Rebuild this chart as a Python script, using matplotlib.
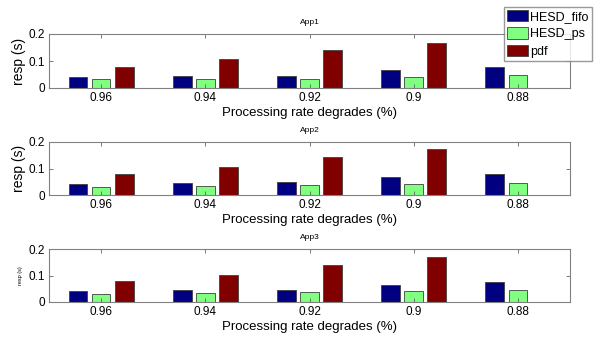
import numpy as np
import matplotlib.pyplot as plt

plt.rcParams["font.family"] = ["Liberation Sans", "DejaVu Sans"]

rates = ["0.96", "0.94", "0.92", "0.9", "0.88"]
series = ["HESD_fifo", "HESD_ps", "pdf"]
colors = ["#000080", "#80ff80", "#800000"]

app1_fifo = [0.042, 0.045, 0.045, 0.067, 0.077]
app1_ps = [0.032, 0.032, 0.034, 0.041, 0.047]
app1_pdf = [0.079, 0.106, 0.141, 0.167, 0.0]

app2_fifo = [0.042, 0.046, 0.049, 0.068, 0.078]
app2_ps = [0.030, 0.034, 0.037, 0.041, 0.045]
app2_pdf = [0.079, 0.106, 0.143, 0.173, 0.0]

app3_fifo = [0.041, 0.045, 0.046, 0.066, 0.075]
app3_ps = [0.030, 0.034, 0.039, 0.041, 0.046]
app3_pdf = [0.079, 0.101, 0.140, 0.169, 0.0]

apps = [
    ("App1", [app1_fifo, app1_ps, app1_pdf]),
    ("App2", [app2_fifo, app2_ps, app2_pdf]),
    ("App3", [app3_fifo, app3_ps, app3_pdf]),
]

W, H = 597, 339
fig = plt.figure(figsize=(W / 100, H / 100), dpi=100)

# axes boxes in pixels: (top, bottom)
boxes = [(34, 88), (142, 195), (249, 302)]
left_px, right_px = 49, 570

x = np.arange(1, len(rates) + 1)
offsets = [-0.222, 0.0, 0.222]
bw = 0.18
edge = "#404040"

handles = []
for i, ((name, vals), (top, bot)) in enumerate(zip(apps, boxes)):
    ax = fig.add_axes([left_px / W, 1 - bot / H, (right_px - left_px) / W, (bot - top) / H])
    for j in range(3):
        b = ax.bar(x + offsets[j], vals[j], width=bw, color=colors[j],
                   edgecolor=edge, linewidth=0.6, label=series[j])
        if i == 0:
            handles.append(b)
    ax.set_xlim(0.5, 5.5)
    ax.set_ylim(0, 0.2)
    ax.set_xticks(x)
    ax.set_xticklabels(rates)
    ax.set_yticks([0, 0.1, 0.2])
    ax.set_yticklabels(["0", "0.1", "0.2"])
    ax.tick_params(direction="in", top=True, right=True, length=3, width=0.6,
                   color="#606060", labelsize=8.5, pad=3)
    for s in ax.spines.values():
        s.set_color("#808080")
        s.set_linewidth(0.8)
    ax.set_title(name, fontsize=6, pad=7)
    ax.set_xlabel("Processing rate degrades (%)", fontsize=9.5, labelpad=2)
    if i < 2:
        ax.set_ylabel("resp (s)", fontsize=10, labelpad=2)
    else:
        ax.set_ylabel("resp (s)", fontsize=4, labelpad=4)

fig.legend(handles, series, loc="upper left",
           bbox_to_anchor=(504 / W, 1 - 7 / H), fontsize=9,
           frameon=True, fancybox=False, edgecolor="#808080",
           handlelength=1.7, handleheight=1.0, handletextpad=0.15,
           labelspacing=0.35, borderpad=0.25, borderaxespad=0)

fig.savefig("out.png", dpi=100)
